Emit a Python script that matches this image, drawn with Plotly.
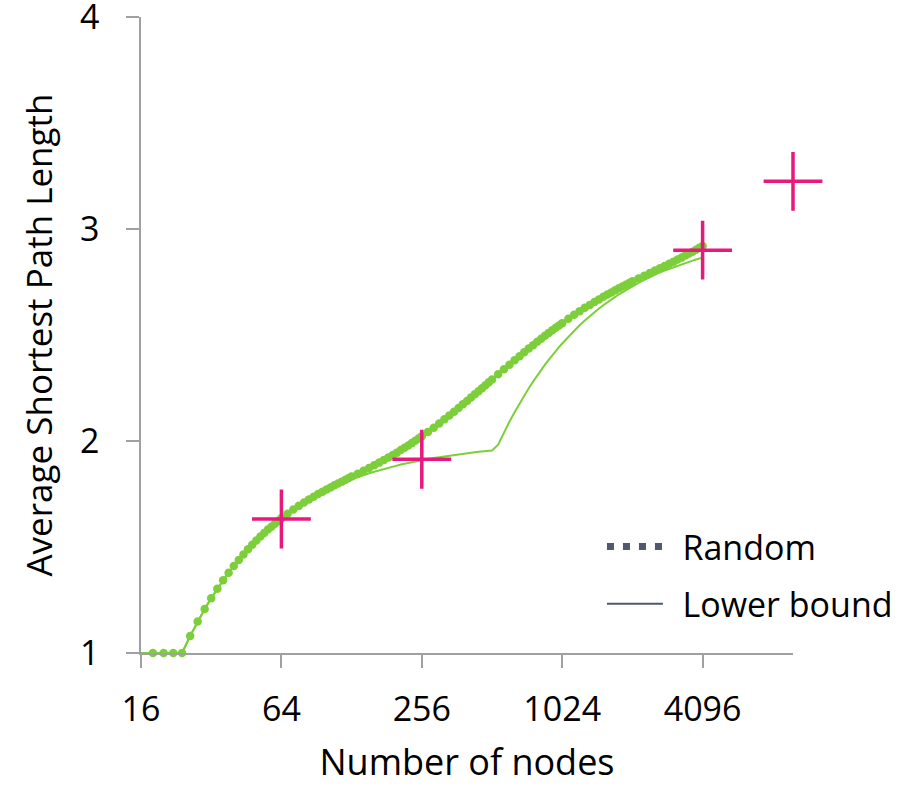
import plotly.graph_objects as go

# ---- data ----
nodes = [16, 18, 20, 22, 24, 26, 28, 30, 32, 34, 36, 38, 40, 42, 44, 46, 48, 50, 52, 54, 56, 58, 60, 62, 64,
         68, 72, 76, 80, 84, 88, 92, 96, 100, 104, 108, 112, 116, 120, 124, 128,
         136, 144, 152, 160, 168, 176, 184, 192, 200, 208, 216, 224, 232, 240, 248, 256,
         272, 288, 304, 320, 336, 352, 368, 384, 400, 416, 432, 448, 464, 480, 496, 512,
         544, 576, 608, 640, 672, 704, 736, 768, 800, 832, 864, 896, 928, 960, 992, 1024,
         1088, 1152, 1216, 1280, 1344, 1408, 1472, 1536, 1600, 1664, 1728, 1792, 1856, 1920, 1984, 2048,
         2176, 2304, 2432, 2560, 2688, 2816, 2944, 3072, 3200, 3328, 3456, 3584, 3712, 3840, 3968, 4096]

random_aspl = [1.000, 1.000, 1.000, 1.000, 1.000, 1.080, 1.148, 1.207, 1.258, 1.303, 1.343, 1.378, 1.410,
               1.439, 1.465, 1.489, 1.511, 1.531, 1.549, 1.566, 1.582, 1.596, 1.610, 1.623, 1.635,
               1.657, 1.677, 1.694, 1.710, 1.724, 1.737, 1.750, 1.761, 1.771, 1.781, 1.791, 1.800,
               1.808, 1.816, 1.824, 1.832,
               1.846, 1.860, 1.873, 1.886, 1.898, 1.910, 1.922, 1.934, 1.945, 1.957, 1.968, 1.979,
               1.990, 2.001, 2.012, 2.022,
               2.043, 2.063, 2.083, 2.102, 2.120, 2.138, 2.156, 2.173, 2.189, 2.205, 2.220, 2.235,
               2.249, 2.263, 2.277, 2.290,
               2.315, 2.338, 2.360, 2.381, 2.400, 2.419, 2.436, 2.452, 2.468, 2.482, 2.496, 2.510,
               2.522, 2.534, 2.545, 2.556,
               2.577, 2.595, 2.612, 2.628, 2.642, 2.656, 2.668, 2.680, 2.691, 2.701, 2.711, 2.720,
               2.729, 2.737, 2.745, 2.753,
               2.767, 2.780, 2.792, 2.804, 2.815, 2.826, 2.836, 2.846, 2.856, 2.865, 2.875, 2.884,
               2.893, 2.902, 2.911, 2.920]

lower_bound = [1.000, 1.000, 1.000, 1.000, 1.000, 1.080, 1.148, 1.207, 1.258, 1.303, 1.343, 1.378, 1.410,
               1.439, 1.465, 1.489, 1.511, 1.531, 1.549, 1.566, 1.582, 1.596, 1.610, 1.623, 1.635,
               1.657, 1.676, 1.693, 1.709, 1.723, 1.736, 1.747, 1.758, 1.768, 1.777, 1.785, 1.793,
               1.800, 1.807, 1.813, 1.819,
               1.830, 1.839, 1.848, 1.855, 1.862, 1.869, 1.874, 1.880, 1.884, 1.889, 1.893, 1.897,
               1.900, 1.904, 1.907, 1.910,
               1.915, 1.920, 1.924, 1.928, 1.931, 1.935, 1.937, 1.940, 1.942, 1.945, 1.947, 1.949,
               1.950, 1.952, 1.954, 1.955,
               1.983, 2.040, 2.091, 2.136, 2.177, 2.215, 2.249, 2.280, 2.309, 2.336, 2.360, 2.383,
               2.405, 2.424, 2.443, 2.460,
               2.492, 2.520, 2.546, 2.568, 2.589, 2.608, 2.625, 2.640, 2.655, 2.668, 2.680, 2.692,
               2.702, 2.712, 2.722, 2.730,
               2.746, 2.760, 2.773, 2.784, 2.795, 2.804, 2.812, 2.820, 2.827, 2.834, 2.840, 2.846,
               2.851, 2.856, 2.861, 2.865]

best_nodes = [64, 256, 4096, 10000]
best_aspl = [1.632, 1.914, 2.900, 3.225]

x_ticks = [16, 64, 256, 1024, 4096]
y_ticks = [1, 2, 3, 4]

GREEN = "#7CCF3A"
PINK = "#E8197D"
LEG = "#4E596B"
AXIS = "#A0A0A0"
FONT = "Open Sans"

fig = go.Figure()

fig.add_trace(go.Scatter(x=nodes, y=lower_bound, mode="lines", cliponaxis=False,
                         line=dict(color=GREEN, width=2), showlegend=False, hoverinfo="skip"))
fig.add_trace(go.Scatter(x=nodes, y=random_aspl, mode="lines+markers", cliponaxis=False,
                         line=dict(color=GREEN, width=2),
                         marker=dict(color=GREEN, size=8.5), showlegend=False))
fig.add_trace(go.Scatter(x=best_nodes, y=best_aspl, mode="markers", cliponaxis=False,
                         marker=dict(symbol="cross-thin", size=42, color=PINK,
                                     line=dict(color=PINK, width=3.5)),
                         showlegend=False))

# legend entries
fig.add_trace(go.Scatter(x=[None], y=[None], mode="lines", name="\u00a0\u2009Random",
                         line=dict(color=LEG, width=7, dash="7px,9px"), legend="legend"))
fig.add_trace(go.Scatter(x=[None], y=[None], mode="lines", name="\u00a0\u2009Lower bound",
                         line=dict(color=LEG, width=2), legend="legend2"))

axis_common = dict(showline=True, linecolor=AXIS, linewidth=1.5, ticks="outside",
                   ticklen=13, tickwidth=1.5, tickcolor=AXIS, showgrid=False, zeroline=False,
                   automargin=False, ticklabeloverflow="allow",
                   tickfont=dict(family=FONT, size=34, color="#000"))

fig.update_layout(
    width=914, height=786,
    margin=dict(l=141, r=121, t=17, b=133),
    paper_bgcolor="white", plot_bgcolor="white",
    font=dict(family=FONT, size=34, color="#000"),
    xaxis=dict(type="log", range=[1.20412, 4.0], tickvals=x_ticks,
               ticktext=[str(v) for v in x_ticks], ticklabelstandoff=12,
               title=dict(text="Number of nodes", font=dict(family=FONT, size=36), standoff=24),
               **axis_common),
    yaxis=dict(range=[0.99995, 4.00005], tickvals=y_ticks, ticklabelstandoff=20,
               title=dict(text="Average Shortest Path Length", font=dict(family=FONT, size=35),
                          standoff=17),
               **axis_common),
    legend=dict(x=0.707, y=0.1667, xanchor="left", yanchor="middle", bgcolor="rgba(0,0,0,0)",
                font=dict(family=FONT, size=34, color="#000"), itemwidth=56),
    legend2=dict(x=0.707, y=0.077, xanchor="left", yanchor="middle", bgcolor="rgba(0,0,0,0)",
                 font=dict(family=FONT, size=34, color="#000"), itemwidth=56),
)

fig.write_html("out.html")
